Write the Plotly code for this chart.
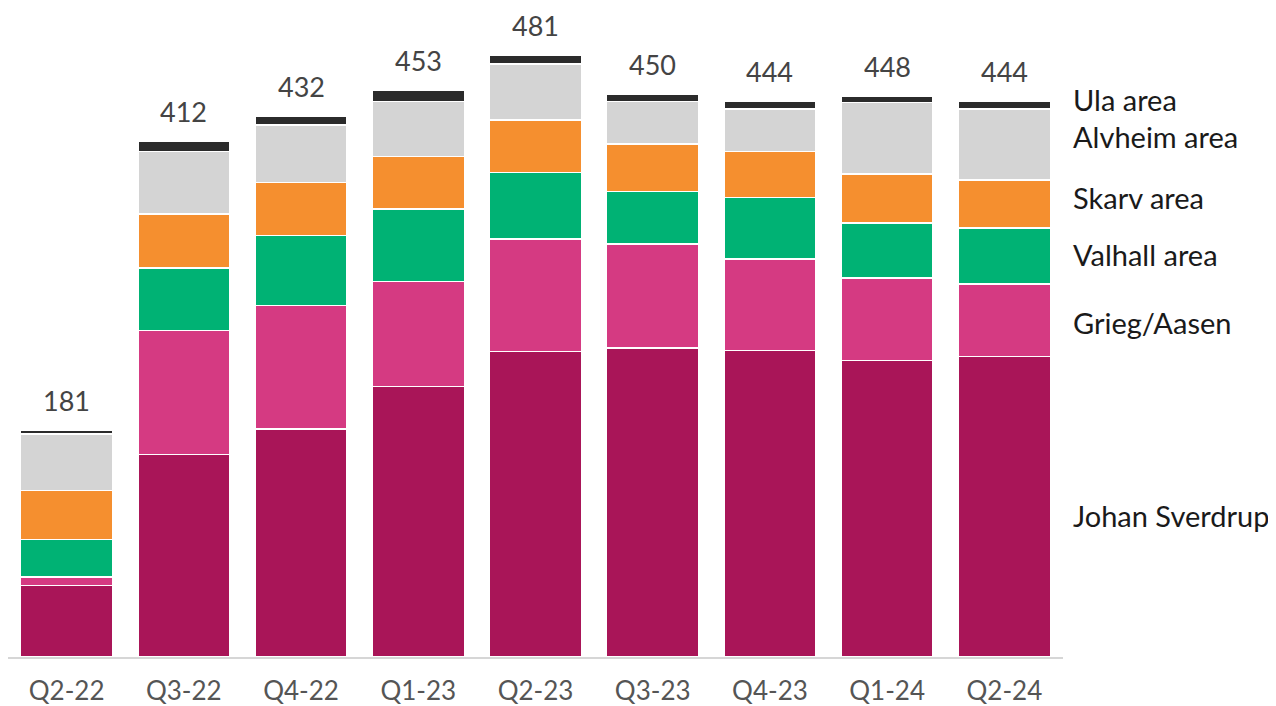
import plotly.graph_objects as go

quarters = ["Q2-22", "Q3-22", "Q4-22", "Q1-23", "Q2-23", "Q3-23", "Q4-23", "Q1-24", "Q2-24"]
johan_sverdrup = [57, 162, 182, 216, 244, 247, 245, 237, 240]
grieg_aasen = [7, 99, 99, 84, 90, 83, 73, 66, 58]
valhall = [30, 50, 56, 58, 53, 42, 49, 44, 45]
skarv = [39, 43, 42, 42, 42, 38, 37, 39, 38]
alvheim = [45, 50, 46, 44, 45, 34, 34, 57, 57]
ula = [3, 8, 7, 9, 7, 6, 6, 5, 6]
totals = [181, 412, 432, 453, 481, 450, 444, 448, 444]

series = [
    ("Johan Sverdrup", johan_sverdrup, "#A91558"),
    ("Grieg/Aasen", grieg_aasen, "#D53A82"),
    ("Valhall area", valhall, "#00B274"),
    ("Skarv area", skarv, "#F58F2F"),
    ("Alvheim area", alvheim, "#D4D4D4"),
    ("Ula area", ula, "#2B2B2B"),
]

FONT = "Lato, 'Open Sans', sans-serif"
fig = go.Figure()
for name, vals, col in series:
    fig.add_trace(go.Bar(
        x=quarters, y=vals, name=name,
        marker=dict(color=col, line=dict(color="white", width=1.5)),
        hoverinfo="x+y+name",
    ))

# total labels
for q, t in zip(quarters, totals):
    fig.add_annotation(x=q, y=t, text=str(t), showarrow=False,
                       yanchor="bottom", yshift=11,
                       font=dict(family=FONT, size=27, color="#444444"))

# right-side series labels next to the last bar
cum = 0
last = len(quarters) - 1
label_shift = {"Johan Sverdrup": -9, "Grieg/Aasen": -2, "Valhall area": 1,
               "Skarv area": 6, "Alvheim area": 8, "Ula area": 6}
for name, vals, col in series:
    mid = cum + vals[last] / 2
    cum += vals[last]
    fig.add_annotation(xref="paper", x=1.008, y=mid, yref="y", text=name,
                       showarrow=False, xanchor="left", yanchor="middle",
                       yshift=label_shift.get(name, 0),
                       font=dict(family=FONT, size=29, color="#1a1a1a"))

fig.update_layout(
    barmode="stack",
    bargap=0.215,
    width=1268, height=698,
    margin=dict(l=0, r=213, t=0, b=49),
    plot_bgcolor="white", paper_bgcolor="white",
    showlegend=False,
    font=dict(family=FONT),
    xaxis=dict(showline=True, linecolor="#D6D6D6", linewidth=2,
               tickfont=dict(family=FONT, size=26, color="#555555"),
               ticks="", showgrid=False, ticklabelstandoff=10),
    yaxis=dict(range=[0, 518.6], visible=False, showgrid=False),
)

fig.write_html("out.html")
